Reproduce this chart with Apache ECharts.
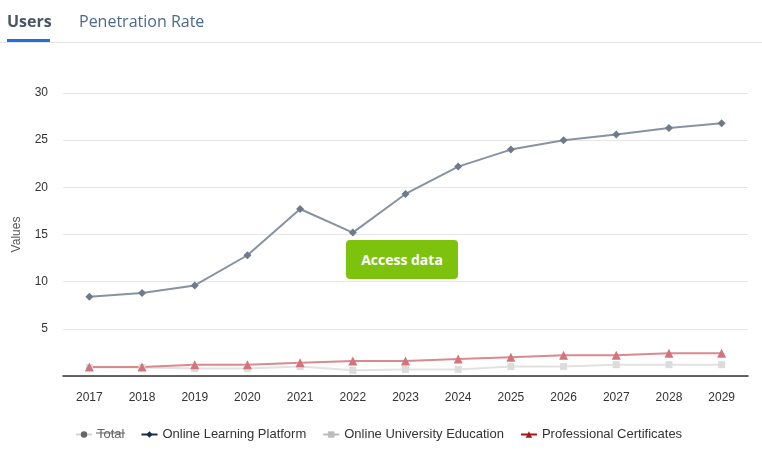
<!DOCTYPE html>
<html>
<head>
<meta charset="utf-8">
<script src="https://cdn.jsdelivr.net/npm/echarts@6/dist/echarts.min.js"></script>
<style>
html,body{margin:0;padding:0;background:#fff;width:762px;height:452px;overflow:hidden;font-family:"Open Sans",Arial,sans-serif;}
#tabs{position:absolute;left:0;top:0;width:762px;height:42px;border-bottom:1px solid #e4e4e4;}
.tab{position:absolute;top:10px;font-size:16px;line-height:22px;}
#t1{left:7px;color:#4a5563;font-weight:700;}
#t2{left:79px;color:#4d6a8c;}
#ul{position:absolute;left:7px;top:39px;width:43px;height:3px;background:#1f6fe0;}
#chart{position:absolute;left:0;top:0;width:762px;height:452px;}
#btn{position:absolute;left:346px;top:240px;width:112px;height:39px;background:#7dc20c;border-radius:4px;color:#fff;font-weight:700;font-size:14px;line-height:39px;text-align:center;}
</style>
</head>
<body>
<div id="chart"></div>
<div id="tabs"><div class="tab" id="t1">Users</div><div class="tab" id="t2">Penetration Rate</div><div id="ul"></div></div>
<div id="btn">Access data</div>
<script>
var years = ['2017','2018','2019','2020','2021','2022','2023','2024','2025','2026','2027','2028','2029'];
var total = [10.2, 10.7, 11.6, 14.8, 20.1, 17.4, 21.6, 24.7, 27.0, 28.2, 29.0, 29.9, 30.4];
var onlineLearning = [8.4, 8.8, 9.6, 12.8, 17.7, 15.2, 19.3, 22.2, 24.0, 25.0, 25.6, 26.3, 26.8];
var onlineUniversity = [0.9, 0.9, 0.8, 0.8, 1.0, 0.6, 0.7, 0.7, 1.0, 1.0, 1.2, 1.2, 1.2];
var professional = [0.95, 0.95, 1.2, 1.2, 1.4, 1.6, 1.6, 1.8, 2.0, 2.2, 2.2, 2.4, 2.4];
var yTicks = [5, 10, 15, 20, 25, 30];

var chart = echarts.init(document.getElementById('chart'));
chart.setOption({
  animation: false,
  grid: {left: 63, right: 14, top: 93, bottom: 76},
  legend: {
    top: 423, left: 70, itemWidth: 16, itemHeight: 8, itemGap: 16,
    textStyle: {color: '#333', fontSize: 13, fontFamily: 'Liberation Sans, Arial'},
    inactiveColor: '#666',
    inactiveBorderColor: '#666',
    selected: {'Total': false},
    data: [
      {name: 'Total', itemStyle: {color: '#666'}, lineStyle: {color: '#666'}},
      {name: 'Online Learning Platform', itemStyle: {color: '#1b2c48'}, lineStyle: {color: '#1b2c48'}},
      {name: 'Online University Education', itemStyle: {color: '#bbbbbb'}, lineStyle: {color: '#bbbbbb'}},
      {name: 'Professional Certificates', itemStyle: {color: '#a01818'}, lineStyle: {color: '#a01818'}}
    ]
  },
  xAxis: {
    type: 'category', data: years, boundaryGap: true,
    axisLine: {lineStyle: {color: '#333', width: 1.5}},
    axisTick: {show: false},
    axisLabel: {color: '#333', fontSize: 12, margin: 16, fontFamily: 'Liberation Sans, Arial'}
  },
  yAxis: {
    type: 'value', min: 0, max: 30, interval: 5,
    name: 'Values', nameLocation: 'middle', nameGap: 40, nameRotate: 90,
    nameTextStyle: {color: '#555', fontSize: 12, fontFamily: 'Liberation Sans, Arial'},
    axisLine: {show: false}, axisTick: {show: false},
    axisLabel: {color: '#333', fontSize: 12, margin: 15, fontFamily: 'Liberation Sans, Arial',
      formatter: function(v){ return yTicks.indexOf(v) >= 0 ? String(v) : ''; }},
    splitLine: {lineStyle: {color: '#e6e6e6'}}
  },
  series: [
    {name: 'Total', type: 'line', data: total, symbol: 'circle', symbolSize: 7,
      itemStyle: {color: '#666'}, lineStyle: {width: 2}},
    {name: 'Online Learning Platform', type: 'line', data: onlineLearning, symbol: 'diamond', symbolSize: 8,
      itemStyle: {color: '#6e7a8a'}, lineStyle: {color: '#8892a0', width: 2}},
    {name: 'Online University Education', type: 'line', data: onlineUniversity, symbol: 'rect', symbolSize: 7,
      itemStyle: {color: '#dcdcdc'}, lineStyle: {color: '#e2e2e2', width: 2}},
    {name: 'Professional Certificates', type: 'line', data: professional, symbol: 'triangle', symbolSize: 9,
      itemStyle: {color: '#d2747a'}, lineStyle: {color: '#d98a8f', width: 2}}
  ],
  graphic: [
    {type: 'line', silent: true, z: 100,
      shape: {x1: 96, y1: 433, x2: 125, y2: 433},
      style: {stroke: '#666', lineWidth: 1}}
  ]
});
</script>
</body>
</html>
